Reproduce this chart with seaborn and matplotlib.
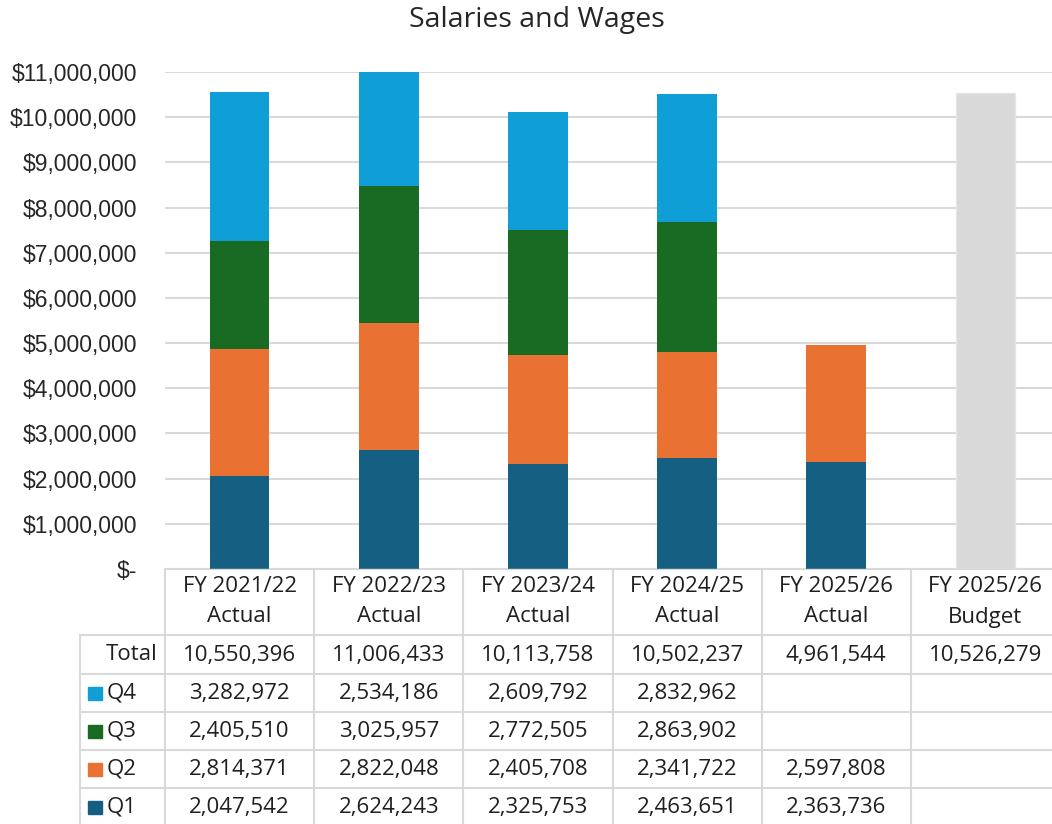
import matplotlib
matplotlib.use("Agg")
import matplotlib.pyplot as plt
from matplotlib.lines import Line2D
from matplotlib.patches import Rectangle
from matplotlib.ticker import FuncFormatter
import matplotlib.transforms as mtransforms
import seaborn as sns

# data
categories = ["FY 2021/22\nActual", "FY 2022/23\nActual", "FY 2023/24\nActual",
              "FY 2024/25\nActual", "FY 2025/26\nActual", "FY 2025/26\nBudget"]
q1 = [2047542, 2624243, 2325753, 2463651, 2363736, None]
q2 = [2814371, 2822048, 2405708, 2341722, 2597808, None]
q3 = [2405510, 3025957, 2772505, 2863902, None, None]
q4 = [3282972, 2534186, 2609792, 2832962, None, None]
budget = [None, None, None, None, None, 10526279]
totals = [10550396, 11006433, 10113758, 10502237, 4961544, 10526279]

series_names = ["Q1", "Q2", "Q3", "Q4"]
series_vals = [q1, q2, q3, q4]
colors = {"Q1": "#156082", "Q2": "#E97132", "Q3": "#196B24", "Q4": "#0F9ED5"}
budget_color = "#D9D9D9"
grid_color = "#D9D9D9"

W, H = 1052, 824
table_font = "Open Sans"
tick_font = "Liberation Sans"

sns.set_theme(style="white")
plt.rcParams["font.family"] = ["Open Sans", "DejaVu Sans"]

fig = plt.figure(figsize=(W / 100, H / 100), dpi=100)
ax = fig.add_axes([165 / W, (H - 569) / H, 895 / W, 497 / H])

# stacked bars
bottoms = [0] * len(categories)
for name, vals in zip(series_names, series_vals):
    heights = [v if v is not None else 0 for v in vals]
    sns.barplot(x=categories, y=heights, bottom=bottoms, color=colors[name],
                width=0.4, order=categories, ax=ax, saturation=1, zorder=3,
                linewidth=0)
    bottoms = [b + h for b, h in zip(bottoms, heights)]

sns.barplot(x=categories, y=[v if v is not None else 0 for v in budget],
            color=budget_color, width=0.4, order=categories, ax=ax,
            saturation=1, zorder=3, edgecolor="#E6E6E6", linewidth=1)

ax.set_xlim(-0.5, len(categories) - 0.5)
ax.set_ylim(0, 11_000_000)
ax.set_yticks(range(0, 11_000_001, 1_000_000))
ax.yaxis.set_major_formatter(FuncFormatter(lambda v, p: "$-" if v == 0 else f"${v:,.0f}"))
ax.set_xticks([])
ax.set_xlabel("")
ax.set_ylabel("")
ax.yaxis.grid(True, color=grid_color, linewidth=1.5, zorder=0)
ax.set_axisbelow(True)
for s in ["top", "right", "left"]:
    ax.spines[s].set_visible(False)
ax.spines["bottom"].set_color(grid_color)
ax.spines["bottom"].set_linewidth(1.5)
ax.tick_params(axis="y", length=0, pad=20, labelsize=16.5, labelcolor="#262626")
for lab in ax.get_yticklabels():
    lab.set_family(tick_font)

fig.text(0.51, 1 - 20 / H, "Salaries and Wages", ha="center", va="center",
         fontsize=20.5, color="#262626", family=table_font)

# data table below the axis
def fy(py):
    return 1 - py / H

blend = mtransforms.blended_transform_factory(ax.transData, fig.transFigure)
row_edges = [635, 674, 712, 750, 788]
for py in row_edges:
    fig.add_artist(Line2D([80 / W, 1], [fy(py), fy(py)], color=grid_color, lw=1.5))
for i in range(len(categories)):
    fig.add_artist(Line2D([i - 0.5, i - 0.5], [fy(569), 0], color=grid_color, lw=1.5,
                          transform=blend))
fig.add_artist(Line2D([80 / W, 80 / W], [fy(635), 0], color=grid_color, lw=1.5))

txt = dict(fontsize=16, color="#1f1f1f", family=table_font, va="center")
for i, cat in enumerate(categories):
    l1, l2 = cat.split("\n")
    fig.text(i, fy(587), l1, ha="center", transform=blend, **txt)
    fig.text(i, fy(617), l2, ha="center", transform=blend, **txt)

row_centers = [655, 693, 731, 769, 807]
fig.text(158 / W, fy(row_centers[0]), "Total", ha="right", **txt)
for i, v in enumerate(totals):
    fig.text(i, fy(row_centers[0]), f"{v:,}", ha="center", transform=blend, **txt)

for k, name in enumerate(["Q4", "Q3", "Q2", "Q1"]):
    yc = row_centers[k + 1]
    vals = series_vals[series_names.index(name)]
    fig.add_artist(Rectangle((88 / W, fy(yc + 6.5)), 14 / W, 13 / H,
                             transform=fig.transFigure, color=colors[name]))
    fig.text(107 / W, fy(yc), name, ha="left", **txt)
    for i, v in enumerate(vals):
        if v is not None:
            fig.text(i, fy(yc), f"{v:,}", ha="center", transform=blend, **txt)

fig.savefig("out.png", dpi=100, facecolor="white")
